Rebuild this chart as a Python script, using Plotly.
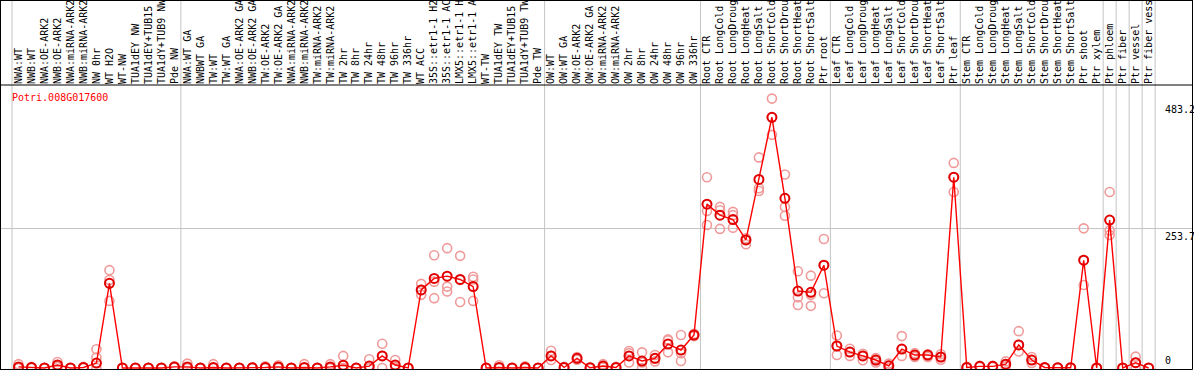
import plotly.graph_objects as go

gene = "Potri.008G017600"

samples = [
    "NWA:WT", "NWB:WT", "NWA:OE-ARK2", "NWB:OE-ARK2", "NWA:miRNA-ARK2", "NWB:miRNA-ARK2",
    "NW 0hr", "WT H2O", "WT-NW", "TUA1dEY NW", "TUA1dEY+TUB15 NW", "TUA1dY+TUB9 NW", "Pde NW",
    "NWA:WT GA", "NWBWT GA", "TW:WT", "TW:WT GA", "NWA:OE-ARK2 GA", "NWB:OE-ARK2 GA",
    "TW:OE-ARK2", "TW:OE-ARK2 GA", "NWA:miRNA-ARK2", "NWB:miRNA-ARK2", "TW:miRNA-ARK2",
    "TW:miRNA-ARK2", "TW 2hr", "TW 8hr", "TW 24hr", "TW 48hr", "TW 96hr", "TW 336hr",
    "WT ACC", "35S::etr1-1 H2O", "35S::etr1-1 ACC", "LMX5::etr1-1 H2O", "LMX5::etr1-1 ACC",
    "WT-TW", "TUA1dEY TW", "TUA1dEY+TUB15 TW", "TUA1dY+TUB9 TW", "Pde TW",
    "OW:WT", "OW:WT GA", "OW:OE-ARK2", "OW:OE-ARK2 GA", "OW:miRNA-ARK2", "OW:miRNA-ARK2",
    "OW 2hr", "OW 8hr", "OW 24hr", "OW 48hr", "OW 96hr", "OW 336hr",
    "Root CTR", "Root LongCold", "Root LongDrought", "Root LongHeat", "Root LongSalt",
    "Root ShortCold", "Root ShortDrought", "Root ShortHeat", "Root ShortSalt", "Ptr root",
    "Leaf CTR", "Leaf LongCold", "Leaf LongDrought", "Leaf LongHeat", "Leaf LongSalt",
    "Leaf ShortCold", "Leaf ShortDrought", "Leaf ShortHeat", "Leaf ShortSalt", "Ptr leaf",
    "Stem CTR", "Stem LongCold", "Stem LongDrought", "Stem LongHeat", "Stem LongSalt",
    "Stem ShortCold", "Stem ShortDrought", "Stem ShortHeat", "Stem ShortSalt", "Ptr shoot",
    "Ptr xylem", "Ptr phloem", "Ptr fiber", "Ptr vessel", "Ptr fiber vessel",
]

group_sizes = [13, 28, 12, 10, 10, 11, 1, 1, 1, 1]

means = [
    2, 1, 0, 5.5, 0, 1, 9, 154, 0, 0, 0, 0, 2,
    2, 0, 1, 0, 0, 0.5, 1, 2, 0, 1, 0, 2, 5, 0, 3.5, 22, 5.5, 0,
    142, 163, 167, 161, 148, 0, 1, 0, 1, 0,
    22, 1, 17.6, 0.5, 3.6, 1, 22, 12.7, 17.6, 43.6, 32.7, 60,
    298, 278, 270, 233, 343, 456, 308.6, 140, 137.6, 187,
    40, 29, 22, 14.5, 4, 34.5, 23.6, 23.6, 20, 347,
    1, 3, 3, 7, 42, 14.5, 1, 0.5, 0.5, 196, 0,
    269, 0, 9.7, 0,
]

replicates = [
    [7, 0, 0], [1, 0, 2], [0, 0, 0], [11, 3, 2], [0, 0, 0], [1, 0, 2], [34, 19, 0], [178, 160, 122],
    [0, 0, 0], [0, 0, 0], [0, 0, 0], [0, 0, 0], [3, 2, 1],
    [8, 0, 0], [0, 0, 0], [7, 0, 0], [0, 0, 0], [0, 0, 0], [1, 0, 0], [3, 0, 0], [5, 1, 0],
    [0, 0, 0], [7, 0, 0], [0, 0, 0], [7, 0, 0], [22, 0, 0], [0, 0, 0], [16, 0, 0], [44, 22, 0],
    [14.5, 2, 0], [0, 0, 0],
    [153, 142, 133], [205, 157, 127], [218, 148, 139], [204, 160, 120], [166, 161, 122],
    [0, 0, 0], [5, 0, 0], [0, 0, 0], [3, 0, 0], [0, 0, 0],
    [31.5, 22, 14.5], [2, 1, 0], [20, 17, 15], [1, 0, 0], [7, 3, 1], [1, 0, 2], [31, 27, 10],
    [28.5, 10, 0], [23.6, 17, 12], [52, 50, 28.5], [60, 27, 12.7], [60, 62, 58],
    [347, 285.5, 260], [293, 287, 253], [284, 278, 255], [236, 233, 225], [383, 327, 322],
    [490, 456, 424], [352, 293, 277], [176, 128.6, 114.6], [168, 133, 113], [234.6, 187, 136],
    [59, 40, 23.6], [35, 29, 22], [26, 22, 14], [18, 14, 10], [8, 4, 0], [58, 34.5, 22],
    [27, 23, 20], [25, 23, 20], [25, 20, 15], [373, 347, 320],
    [2, 1, 0], [4, 3, 2], [4, 3, 2], [12, 7, 3], [67, 42, 30], [20, 14.5, 9], [1, 0, 0],
    [1, 0, 0], [1, 0, 0], [254, 196, 151], [0, 0, 0],
    [320, 250, 242], [0, 0, 0], [20.6, 9.7, 0], [0, 0, 0],
]

y_tick_values = [483.2, 253.7, 0]
y_tick_labels = ["483.2", "253.7", "0"]

MONO = "DejaVu Sans Mono"
W, H, TOP = 1194, 370, 85

x_idx = list(range(len(samples)))
rep_x = [i for i, reps in zip(x_idx, replicates) for _ in reps]
rep_y = [v for reps in replicates for v in reps]

# axis geometry (pixels): slot width and first-slot center
slot = 12.99
first = 18.5
xr = [-first / slot, (W - first) / slot]
scale = 1.8187  # units per pixel
yr = [(368 - H) * scale, (368 - TOP) * scale]

fig = go.Figure()
fig.add_trace(go.Scatter(
    x=rep_x, y=rep_y, mode="markers",
    marker=dict(symbol="circle-open", size=9, color="#f09a9a", line=dict(width=1.6)),
    hoverinfo="skip", showlegend=False,
))
fig.add_trace(go.Scatter(
    x=x_idx, y=means, mode="lines+markers",
    line=dict(color="#ff0000", width=1.4),
    marker=dict(symbol="circle-open", size=9, color="#e00000", line=dict(width=2)),
    showlegend=False,
))

def xpaper(v):
    return (v - xr[0]) / (xr[1] - xr[0])

top_paper = 1 + TOP / (H - TOP)
shapes = []
b = -0.5
bounds = [b]
for g in group_sizes:
    b += g
    bounds.append(b)
for bd in bounds:
    shapes.append(dict(type="line", xref="paper", yref="paper",
                       x0=xpaper(bd), x1=xpaper(bd), y0=0, y1=top_paper,
                       line=dict(color="#c4c4c4", width=1), layer="below"))
# frame
right = 1192.5 / W
bot = 0.5 / (H - TOP)
shapes += [
    dict(type="line", xref="paper", yref="paper", x0=0.5 / W, x1=0.5 / W, y0=bot, y1=top_paper,
         line=dict(color="black", width=1)),
    dict(type="line", xref="paper", yref="paper", x0=right, x1=right, y0=bot, y1=top_paper,
         line=dict(color="black", width=1)),
    dict(type="line", xref="paper", yref="paper", x0=0, x1=right, y0=bot, y1=bot,
         line=dict(color="black", width=1)),
    dict(type="line", xref="paper", yref="paper", x0=0, x1=right, y0=1, y1=1,
         line=dict(color="black", width=1)),
    dict(type="line", xref="paper", yref="paper", x0=0, x1=right,
         y0=top_paper - 0.5 / (H - TOP), y1=top_paper - 0.5 / (H - TOP),
         line=dict(color="black", width=1)),
    dict(type="line", xref="paper", yref="y", x0=0, x1=right, y0=y_tick_values[1], y1=y_tick_values[1],
         line=dict(color="#c4c4c4", width=1), layer="below"),
]

annotations = [dict(
    text=gene, xref="paper", yref="paper", x=10 / W, y=(H - 97) / (H - TOP),
    xanchor="left", yanchor="middle", showarrow=False,
    font=dict(family=MONO, size=10, color="#ff0000"),
)]
for v, t in zip(y_tick_values, y_tick_labels):
    annotations.append(dict(
        text=t, xref="paper", yref="y", x=1163 / W, y=v,
        xanchor="left", yanchor="bottom" if v == 0 else "top", showarrow=False,
        font=dict(family=MONO, size=10, color="black"),
    ))

fig.update_layout(
    template="none",
    width=W, height=H,
    margin=dict(l=0, r=0, t=TOP, b=0, pad=0),
    paper_bgcolor="white", plot_bgcolor="white",
    xaxis=dict(range=xr, side="top", tickmode="array", tickvals=x_idx, ticktext=samples,
               tickangle=-90, tickfont=dict(family=MONO, size=10, color="black"),
               showgrid=False, zeroline=False, showline=False, ticks="", automargin=False),
    yaxis=dict(range=yr, showticklabels=False, showgrid=False, zeroline=False,
               showline=False, ticks="", automargin=False),
    shapes=shapes, annotations=annotations,
)

fig.write_html("out.html", config={"displayModeBar": False},
               post_script="document.body.style.margin='0';document.body.style.overflow='hidden';")
